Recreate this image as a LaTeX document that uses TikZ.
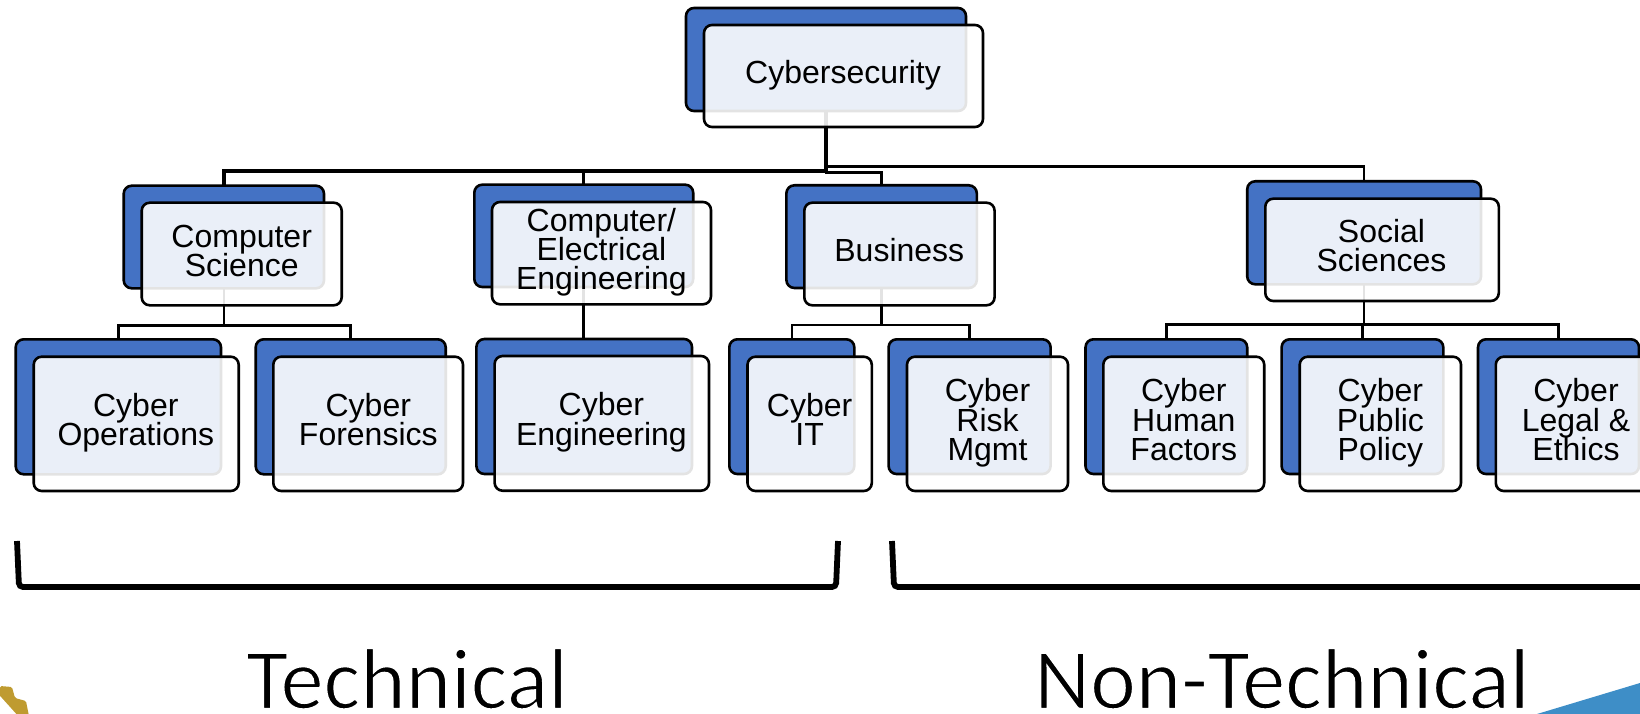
\documentclass[tikz,border=0pt]{standalone}
\usepackage{fontspec}
\setmainfont{Liberation Sans}
\newfontfamily\bigfont{Carlito}
\AtBeginDocument{\setlength{\lineskiplimit}{-20pt}}
\definecolor{backblue}{HTML}{4472C4}
\definecolor{seal}{HTML}{BF9B30}
\definecolor{wedge}{HTML}{3E8EC7}
\tikzset{
  x=1pt,y=-1pt,
  backbox/.style={draw=black,fill=backblue,line width=2.6pt,rounded corners=8pt,inner sep=0pt,outer sep=0pt},
  frontbox/.style={draw=black,fill=white,fill opacity=.89,draw opacity=1,line width=2.6pt,rounded corners=8pt,inner sep=0pt,outer sep=0pt},
  lab/.style={inner sep=0pt,outer sep=0pt,align=center,font=\fontsize{32}{29.2}\selectfont,anchor=base},
  conn/.style={draw=black,line width=2.6pt},
  trunk/.style={draw=black,line width=3.4pt},
  bracket/.style={draw=black,line width=5.8pt,rounded corners=4pt,line cap=butt},
  bigt/.style={inner sep=0pt,outer sep=0pt,anchor=base,text depth=0pt,font=\bigfont\fontsize{86.5}{87}\selectfont}
}
\newcommand{\thintext}[1]{\special{pdf:code q 2 Tr 1 1 1 RG 1.5 w}#1\special{pdf:code Q}}
\newcommand{\bbox}[5]{%
  \pgfmathsetmacro{\mw}{#4-#2}\pgfmathsetmacro{\mh}{#5-#3}%
  \pgfmathsetmacro{\cx}{(#4+#2)/2}\pgfmathsetmacro{\cy}{(#5+#3)/2}%
  \node[backbox,minimum width=\mw pt,minimum height=\mh pt] (#1) at (\cx,\cy) {};}
\newcommand{\ffbox}[8]{%
  \pgfmathsetmacro{\mw}{#4-#2}\pgfmathsetmacro{\mh}{#5-#3}%
  \pgfmathsetmacro{\cx}{(#4+#2)/2}\pgfmathsetmacro{\cy}{(#5+#3)/2}%
  \node[frontbox,minimum width=\mw pt,minimum height=\mh pt] (#1) at (\cx,\cy) {};
  \node[lab] (#1t) at (#6,#7) {#8};}
\begin{document}
\begin{tikzpicture}
\useasboundingbox (0,0) rectangle (1640,714);
\clip (0,0) rectangle (1640,714);
% back boxes
\bbox{rootb}{686}{8}{966}{111}
\bbox{csb}{123.7}{185.7}{324}{288.3}
\bbox{ceb}{474.3}{184.7}{693.2}{287}
\bbox{busb}{786.4}{185.3}{976.8}{288}
\bbox{socb}{1247.2}{181.3}{1481}{284.3}
\bbox{opsb}{15.7}{339.3}{221}{474.3}
\bbox{forb}{255.7}{339.3}{445.7}{474.3}
\bbox{engb}{476.4}{339}{692}{474}
\bbox{itb}{729.3}{339.3}{854.3}{474}
\bbox{riskb}{888.6}{339.3}{1050.6}{474}
\bbox{humb}{1085.5}{339.3}{1247.2}{474}
\bbox{pubb}{1281.6}{339.3}{1443.3}{474}
\bbox{legb}{1478}{339.3}{1639}{474}
% connectors
\draw[trunk] (rootb.south) -- ++(0,60) -| (csb.north);
\draw[conn] (rootb.south) -- ++(0,60) -| (ceb.north);
\draw[conn] (rootb.south) -- ++(0,61.5) -| (busb.north);
\draw[conn] (rootb.south) -- ++(0,55.7) -| (socb.north);
\draw[conn] (csb.south) -- ++(0,37) -| (opsb.north);
\draw[conn] (csb.south) -- ++(0,37) -| (forb.north);
\draw[conn] (ceb.south) -- (ceb.south |- engb.north);
\draw[conn] (busb.south) -- ++(0,37) -| (itb.north);
\draw[conn] (busb.south) -- ++(0,37) -| (riskb.north);
\draw[conn] (socb.south) -- ++(0,40.4) -| (humb.north);
\draw[conn] (socb.south) -- ++(0,40.4) -| (pubb.north);
\draw[conn] (socb.south) -- ++(0,40.4) -| (legb.north);
% front boxes
\ffbox{root}{704}{25}{983}{127}{843}{83.5}{Cybersecurity}
\ffbox{cs}{141.7}{202.7}{341.7}{305.3}{241.7}{276.3}{Computer\\Science}
\ffbox{ce}{492}{202}{711}{304.3}{601.4}{289.5}{Computer/\\Electrical\\Engineering}
\ffbox{bus}{804.3}{202.7}{994.6}{305.3}{899.3}{261.3}{Business}
\ffbox{soc}{1265.3}{198.7}{1498.8}{301}{1381.5}{271.3}{Social\\Sciences}
\ffbox{ops}{33.7}{356.7}{238.7}{491}{135.8}{445.5}{Cyber\\Operations}
\ffbox{for}{273.3}{356.7}{463}{491}{368.3}{445.5}{Cyber\\Forensics}
\ffbox{eng}{494.6}{356}{709}{490.7}{601.4}{445}{Cyber\\Engineering}
\ffbox{it}{747.5}{356.7}{871.8}{491}{809.6}{445.3}{Cyber\\IT}
\ffbox{risk}{907}{356.7}{1068}{491}{987.5}{460.3}{Cyber\\Risk\\Mgmt}
\ffbox{hum}{1103.3}{356.7}{1264.2}{491}{1183.8}{460.3}{Cyber\\Human\\Factors}
\ffbox{pub}{1299.7}{356.7}{1461}{491}{1380.4}{460.3}{Cyber\\Public\\Policy}
\ffbox{leg}{1495.8}{356.7}{1657}{491}{1576}{460.3}{Cyber\\Legal \&\\Ethics}
% brackets
\coordinate (b1a) at (17,541); \coordinate (b1b) at (19,587);
\coordinate (b1c) at (836,587); \coordinate (b1d) at (838,541);
\draw[bracket] (b1a) -- (b1b) -- (b1c) -- (b1d);
\coordinate (b2a) at (892,541); \coordinate (b2b) at (894,587);
\coordinate (b2c) at (1660,587);
\draw[bracket] (b2a) -- (b2b) -- (b2c);
% bottom labels
\node[bigt] (tech) at (407,708.5) {\thintext{Technical}};
\node[bigt] (nontech) at (1282,708.5) {\thintext{Non-Technical}};
% corner pieces
\fill[seal,rounded corners=1.5pt] (0,686) -- (12,687) -- (15,698) -- (26,701) -- (29,716) -- (0,716) -- cycle;
\fill[white] (0,696) -- (18,716) -- (0,716) -- cycle;
\fill[wedge] (1537,714) -- (1640,683) -- (1640,714) -- cycle;
\end{tikzpicture}
\end{document}
